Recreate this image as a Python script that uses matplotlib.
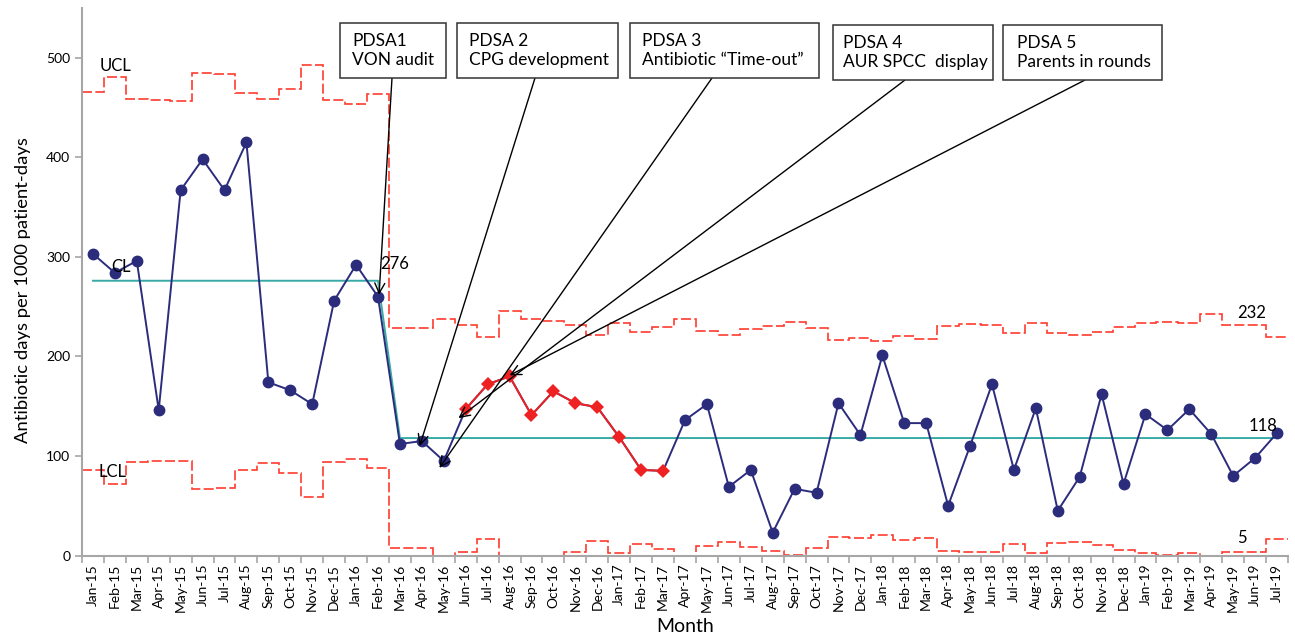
import numpy as np
import matplotlib
matplotlib.use("Agg")
import matplotlib.pyplot as plt
from matplotlib.patches import Rectangle

plt.rcParams['font.family'] = ['Lato', 'DejaVu Sans']

months = ['Jan-15', 'Feb-15', 'Mar-15', 'Apr-15', 'May-15', 'Jun-15', 'Jul-15', 'Aug-15',
          'Sep-15', 'Oct-15', 'Nov-15', 'Dec-15',
          'Jan-16', 'Feb-16', 'Mar-16', 'Apr-16', 'May-16', 'Jun-16', 'Jul-16', 'Aug-16',
          'Sep-16', 'Oct-16', 'Nov-16', 'Dec-16',
          'Jan-17', 'Feb-17', 'Mar-17', 'Apr-17', 'May-17', 'Jun-17', 'Jul-17', 'Aug-17',
          'Sep-17', 'Oct-17', 'Nov-17', 'Dec-17',
          'Jan-18', 'Feb-18', 'Mar-18', 'Apr-18', 'May-18', 'Jun-18', 'Jul-18', 'Aug-18',
          'Sep-18', 'Oct-18', 'Nov-18', 'Dec-18',
          'Jan-19', 'Feb-19', 'Mar-19', 'Apr-19', 'May-19', 'Jun-19', 'Jul-19']

# antibiotic days per 1000 patient-days
rate = [303, 284, 296, 146, 367, 398, 367, 415, 174, 166, 152, 256,
        292, 260, 112, 115, 95, 147, 172, 180, 141, 165, 153, 149,
        119, 86, 85, 136, 152, 69, 86, 23, 67, 63, 153, 121,
        201, 133, 133, 50, 110, 172, 86, 148, 45, 79, 162, 72,
        142, 126, 147, 122, 80, 98, 123]

ucl = [465.7, 480.6, 458.5, 457.4, 456.4, 484.8, 484.0, 464.7, 458.5, 468.5, 492.4, 457.4,
       453.9, 463.7, 228.3, 228.3, 237.7, 231.7, 219.3, 245.7, 237.7, 236.0, 231.7, 221.6,
       234.0, 224.3, 229.3, 237.7, 225.6, 221.6, 227.3, 231.0, 235.0, 228.3, 216.6, 218.9,
       215.6, 220.6, 217.6, 231.0, 232.4, 231.7, 223.9, 233.4, 223.3, 221.6, 224.9, 230.0,
       233.4, 234.7, 233.4, 242.4, 231.7, 231.7, 219.3]

lcl = [85.5, 71.6, 94.1, 94.5, 95.2, 66.4, 67.5, 86.2, 93.4, 82.7, 59.2, 94.1,
       96.9, 87.9, 7.2, 7.2, 0.0, 3.9, 16.6, 0.0, 0.0, 0.0, 3.9, 14.6,
       2.2, 11.2, 6.2, 0.0, 9.8, 13.9, 8.8, 4.5, 0.5, 7.9, 18.9, 17.3,
       20.3, 15.6, 17.9, 4.9, 3.2, 3.9, 11.6, 2.8, 12.9, 13.9, 10.6, 5.5,
       2.2, 0.5, 2.2, 0.0, 3.9, 3.9, 16.6]

cl_before = 276
cl_after = 118
n_before = 14           # Jan-15 .. Feb-16
red_start, red_end = 17, 27   # Jun-16 .. Mar-17 highlighted

pdsa_text = ['PDSA1\nVON audit', 'PDSA 2\nCPG development', 'PDSA 3\nAntibiotic \u201cTime-out\u201d',
             'PDSA 4\nAUR SPCC  display', 'PDSA 5\nParents in rounds']
# box edges in pixels measured from top-left of the figure
box_left = [340, 457, 630, 833, 1003]
box_right = [446, 618, 819, 993, 1162]
box_top = [23, 23, 23, 25, 25]
box_bottom = [78, 78, 78, 80, 80]
text_left = [352, 469, 642, 843, 1017]
arrow_from = [392, 535, 712, 905, 1085]
pdsa_target = [(13.05, 262), (14.9, 110), (15.8, 88), (16.67, 138), (19.0, 181)]

navy = '#2B2C7C'
teal = '#38ABA6'
red_line = '#FF3B2F'
red_pt = '#EE2222'
grey = '#A6A6A6'

W, H = 1295, 644
x = np.arange(len(months))
cl = [cl_before] * n_before + [cl_after] * (len(months) - n_before)
blue_marks = [i for i in x if not (red_start <= i < red_end)]

fig = plt.figure(figsize=(W / 100, H / 100), dpi=100)
ax = fig.add_axes([0.0633, 0.1374, 0.9313, 0.8502])

edges = np.arange(len(months) + 1) - 0.5
ax.stairs(ucl, edges, color=red_line, lw=1.2, ls=(0, (6, 2)), baseline=None, zorder=2)
ax.stairs(lcl, edges, color=red_line, lw=1.2, ls=(0, (6, 2)), baseline=None, zorder=2)

ax.plot(x, cl, color=teal, lw=1.4, zorder=3)
ax.plot(x, rate, color=navy, lw=1.4, marker='o', ms=7.5, markevery=blue_marks, zorder=4)
ax.plot(x[red_start:red_end], rate[red_start:red_end], color=red_pt, lw=1.4,
        marker='D', ms=7, mew=0, zorder=5)

lab_fs = 12
ax.text(0.3, 492, 'UCL', fontsize=lab_fs, va='center', ha='left')
ax.text(0.82, 290, 'CL', fontsize=lab_fs, va='center', ha='left', zorder=6)
ax.text(0.27, 84, 'LCL', fontsize=lab_fs, va='center', ha='left', zorder=6)
ax.text(13.1, 292.5, '276', fontsize=lab_fs, va='center', ha='left')
ax.text(52.2, 244, '232', fontsize=lab_fs, va='center', ha='left')
ax.text(52.7, 130.5, '118', fontsize=lab_fs, va='center', ha='left', zorder=6)
ax.text(52.2, 17.3, '5', fontsize=lab_fs, va='center', ha='left')

for i, txt in enumerate(pdsa_text):
    l, r = box_left[i] / W, box_right[i] / W
    b, t = 1 - box_bottom[i] / H, 1 - box_top[i] / H
    fig.patches.append(Rectangle((l, b), r - l, t - b, transform=fig.transFigure,
                                 fc='white', ec='#333333', lw=1.1, zorder=7))
    fig.text(text_left[i] / W, (b + t) / 2, txt, fontsize=12.5, ha='left', va='center',
             linespacing=1.2, zorder=8)
    ax.annotate('', xy=pdsa_target[i], xycoords='data',
                xytext=(arrow_from[i], H - box_bottom[i]), textcoords='figure pixels',
                arrowprops=dict(arrowstyle='->', color='black', lw=1.0,
                                shrinkA=0, shrinkB=0, mutation_scale=18),
                zorder=7)

ax.set_xlim(-0.5, len(months) - 0.5)
ax.set_ylim(0, 550)
ax.set_yticks(range(0, 501, 100))
ax.set_xticks(x)
ax.set_xticklabels(months, rotation=90, fontsize=10)
ax.set_xticks(edges, minor=True)
ax.tick_params(axis='x', which='major', length=0, pad=6)
ax.tick_params(axis='x', which='minor', length=5, color=grey, width=1.2)
ax.tick_params(axis='y', labelsize=10, length=5, color=grey, width=1.2)

for s in ['top', 'right']:
    ax.spines[s].set_visible(False)
for s in ['left', 'bottom']:
    ax.spines[s].set_color(grey)
    ax.spines[s].set_linewidth(1.5)

ax.set_xlabel('Month', fontsize=14, labelpad=4)
ax.set_ylabel('Antibiotic days per 1000 patient-days', fontsize=13.3)
ax.yaxis.set_label_coords(-0.042, 0.485)

fig.savefig('out.png', dpi=100)
